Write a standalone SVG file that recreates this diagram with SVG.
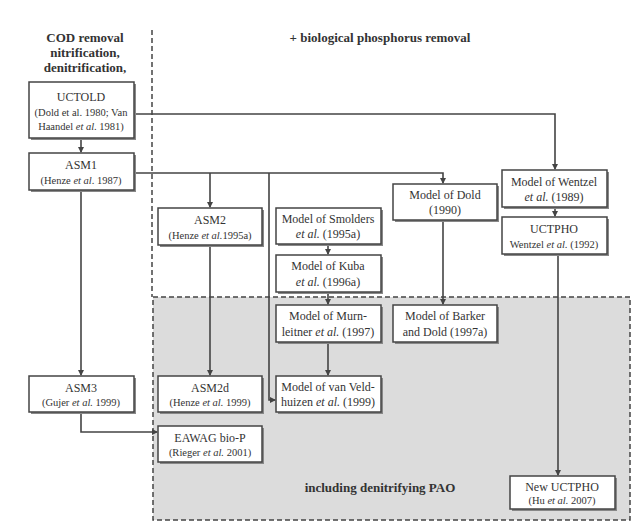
<svg xmlns="http://www.w3.org/2000/svg" width="644" height="524" viewBox="0 0 644 524" font-family="'Liberation Serif','Times New Roman','DejaVu Serif',serif">
<defs>
<marker id="a" markerWidth="6" markerHeight="6" refX="5" refY="3" orient="auto" markerUnits="userSpaceOnUse"><path d="M0,0 L6,3 L0,6 z" fill="#444"/></marker>
<style>
.b{fill:#fff;stroke:#444;stroke-width:1.5}
.s{fill:#888}
text{font-family:'Liberation Serif','Times New Roman','DejaVu Serif',serif;fill:#333;text-anchor:middle}
.t{font-size:12px}
.c{font-size:10.5px}
.h{font-size:13px;font-weight:bold}
.l{fill:none;stroke:#444;stroke-width:1.6}
.d{stroke:#444;stroke-width:1.5;stroke-dasharray:5,3}
</style>
</defs>
<rect width="644" height="524" fill="#fff"/>
<rect x="153" y="297" width="477" height="223" class="d" style="fill:#dcdcdc"/>
<line x1="152" y1="30" x2="152" y2="297" class="d" style="fill:none"/>
<text class="h" x="85" y="42">COD removal</text>
<text class="h" x="85" y="57">nitrification,</text>
<text class="h" x="85" y="72">denitrification,</text>
<text class="h" x="380" y="42">+ biological phosphorus removal</text>
<text class="h" x="380" y="492">including denitrifying PAO</text>
<g id="connectors">
<path class="l" d="M81,138V152" marker-end="url(#a)"/>
<path class="l" d="M134,114H555V169" marker-end="url(#a)"/>
<path class="l" d="M134,173H443V183" marker-end="url(#a)"/>
<path class="l" d="M210,173V207" marker-end="url(#a)"/>
<path class="l" d="M269,173V400H275" marker-end="url(#a)"/>
<path class="l" d="M81,190V375" marker-end="url(#a)"/>
<path class="l" d="M210,245V375" marker-end="url(#a)"/>
<path class="l" d="M328,244V254" marker-end="url(#a)"/>
<path class="l" d="M328,292V304" marker-end="url(#a)"/>
<path class="l" d="M328,342V375" marker-end="url(#a)"/>
<path class="l" d="M443,220V304" marker-end="url(#a)"/>
<path class="l" d="M555,207V216" marker-end="url(#a)"/>
<path class="l" d="M558,254V475" marker-end="url(#a)"/>
<path class="l" d="M81,412V432H157" marker-end="url(#a)"/>
</g>
<g id="uctold"><rect class="s" x="31" y="84" width="105" height="56"/><rect class="b" x="29" y="82" width="105" height="56"/><text class="t" x="81" y="101">UCTOLD</text><text class="c" x="81" y="116">(Dold et al. 1980; Van</text><text class="c" x="81" y="130">Haandel <tspan font-style="italic">et al</tspan>. 1981)</text></g>
<g id="asm1"><rect class="s" x="31" y="155" width="105" height="37"/><rect class="b" x="29" y="153" width="105" height="37"/><text class="t" x="81" y="169">ASM1</text><text class="c" x="81" y="184">(Henze <tspan font-style="italic">et al</tspan>. 1987)</text></g>
<g id="asm2"><rect class="s" x="160" y="210" width="104" height="37"/><rect class="b" x="158" y="208" width="104" height="37"/><text class="t" x="210" y="224">ASM2</text><text class="c" x="210" y="239">(Henze <tspan font-style="italic">et al.</tspan>1995a)</text></g>
<g id="smolders"><rect class="s" x="278" y="210" width="105" height="36"/><rect class="b" x="276" y="208" width="105" height="36"/><text class="t" x="328" y="223">Model of Smolders</text><text class="t" x="328" y="238"><tspan font-style="italic">et al.</tspan> (1995a)</text></g>
<g id="kuba"><rect class="s" x="278" y="257" width="105" height="37"/><rect class="b" x="276" y="255" width="105" height="37"/><text class="t" x="328" y="270">Model of Kuba</text><text class="t" x="328" y="286"><tspan font-style="italic">et al.</tspan> (1996a)</text></g>
<g id="murn"><rect class="s" x="278" y="307" width="105" height="37"/><rect class="b" x="276" y="305" width="105" height="37"/><text class="t" x="328" y="320">Model of Murn-</text><text class="t" x="328" y="336">leitner <tspan font-style="italic">et al.</tspan> (1997)</text></g>
<g id="veld"><rect class="s" x="278" y="378" width="105" height="36"/><rect class="b" x="276" y="376" width="105" height="36"/><text class="t" x="328" y="391">Model of van Veld-</text><text class="t" x="328" y="406">huizen <tspan font-style="italic">et al.</tspan> (1999)</text></g>
<g id="asm2d"><rect class="s" x="160" y="378" width="104" height="36"/><rect class="b" x="158" y="376" width="104" height="36"/><text class="t" x="210" y="392">ASM2d</text><text class="c" x="210" y="406">(Henze <tspan font-style="italic">et al.</tspan> 1999)</text></g>
<g id="asm3"><rect class="s" x="31" y="378" width="105" height="36"/><rect class="b" x="29" y="376" width="105" height="36"/><text class="t" x="81" y="392">ASM3</text><text class="c" x="81" y="406">(Gujer <tspan font-style="italic">et al.</tspan> 1999)</text></g>
<g id="eawag"><rect class="s" x="160" y="428" width="104" height="36"/><rect class="b" x="158" y="426" width="104" height="36"/><text class="t" x="210" y="442">EAWAG bio-P</text><text class="c" x="210" y="456">(Rieger <tspan font-style="italic">et al.</tspan> 2001)</text></g>
<g id="dold"><rect class="s" x="395" y="186" width="104" height="36"/><rect class="b" x="393" y="184" width="104" height="36"/><text class="t" x="445" y="199">Model of Dold</text><text class="t" x="445" y="214">(1990)</text></g>
<g id="barker"><rect class="s" x="395" y="307" width="104" height="37"/><rect class="b" x="393" y="305" width="104" height="37"/><text class="t" x="445" y="320">Model of Barker</text><text class="t" x="445" y="336">and Dold (1997a)</text></g>
<g id="wentzel"><rect class="s" x="504" y="172" width="105" height="37"/><rect class="b" x="502" y="170" width="105" height="37"/><text class="t" x="554" y="186">Model of Wentzel</text><text class="t" x="554" y="201"><tspan font-style="italic">et al.</tspan> (1989)</text></g>
<g id="uctpho"><rect class="s" x="504" y="219" width="105" height="37"/><rect class="b" x="502" y="217" width="105" height="37"/><text class="t" x="554" y="233">UCTPHO</text><text class="c" x="554" y="248">Wentzel <tspan font-style="italic">et al.</tspan> (1992)</text></g>
<g id="newuctpho"><rect class="s" x="512" y="478" width="105" height="33"/><rect class="b" x="510" y="476" width="105" height="33"/><text class="t" x="562" y="491">New UCTPHO</text><text class="c" x="562" y="504">(Hu <tspan font-style="italic">et al.</tspan> 2007)</text></g>
</svg>
